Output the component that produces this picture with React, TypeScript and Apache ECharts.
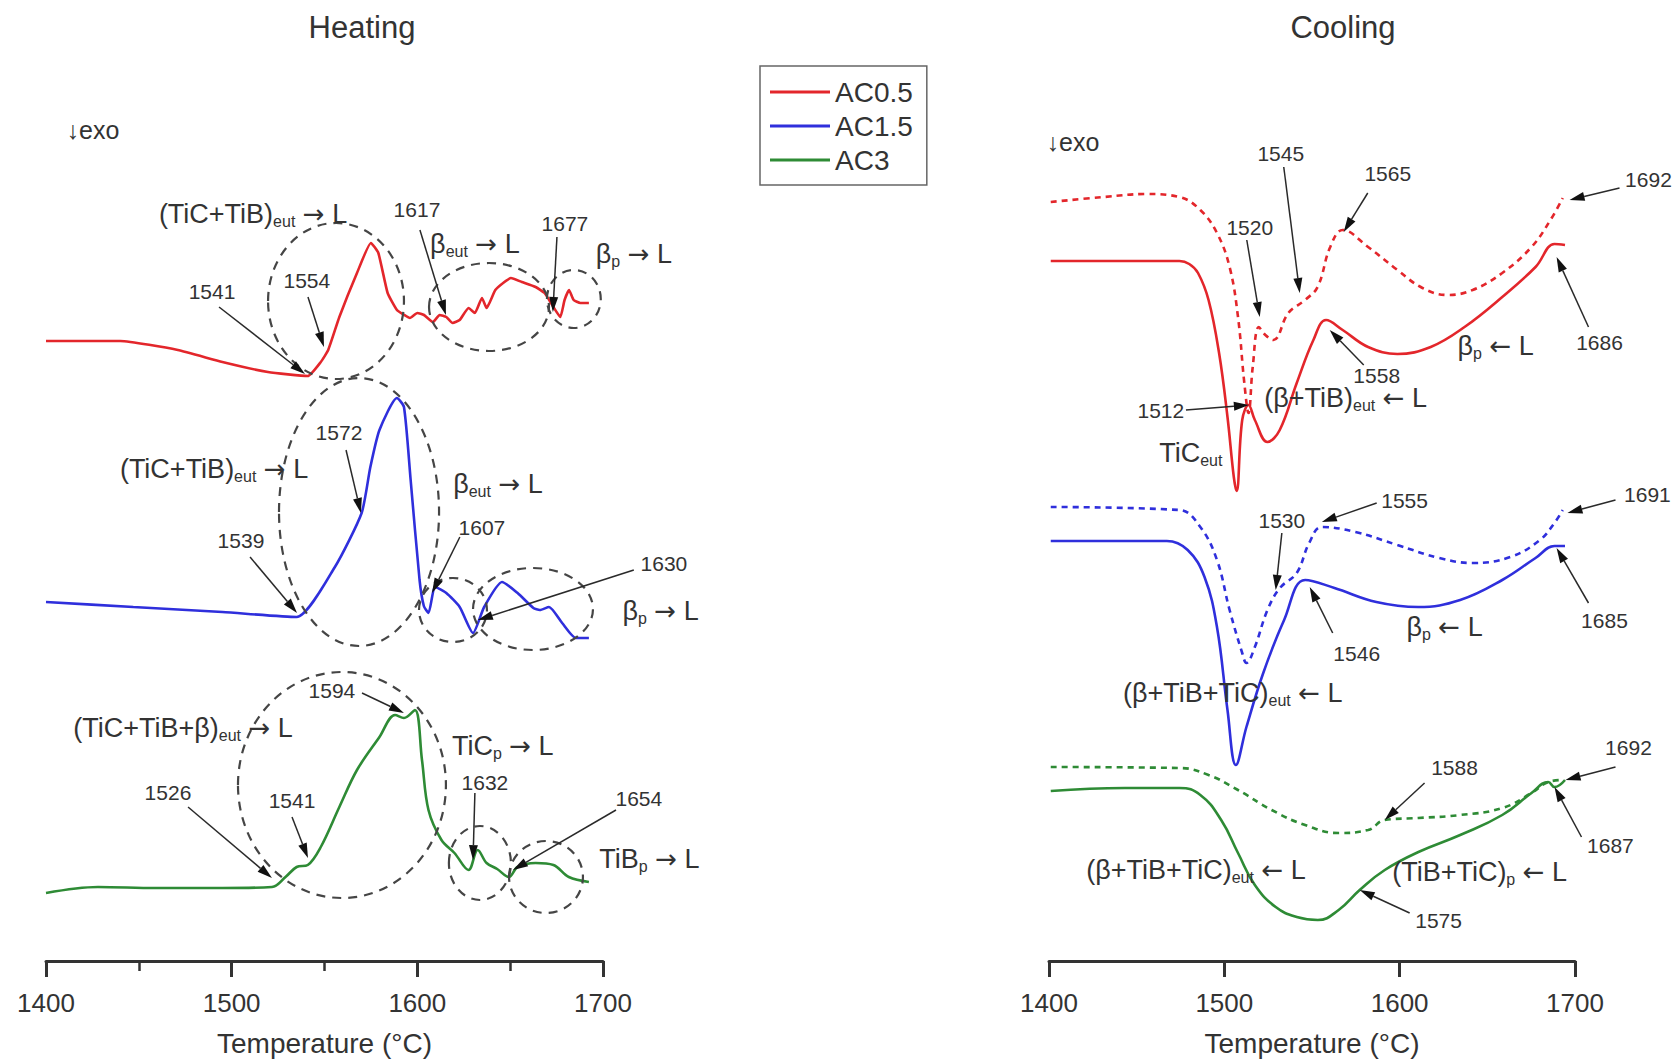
import { useEffect, useRef } from "react";
import * as echarts from "echarts";

type P = [number, number];

// ---------- data: temperature (°C) vs DSC signal (arbitrary units, exo down) ----------
const HEAT_AC05: P[] = [
  [1400, 62.0], [1440, 62.0], [1471, 61.1], [1495, 59.9], [1519.5, 58.9], [1541, 58.5], [1548, 59.9],
  [1552, 61.1], [1558, 64.4], [1567.5, 68.8], [1575, 71.8], [1579, 70.8], [1584, 66.8], [1589, 65.1],
  [1593, 64.6], [1596, 64.3], [1600, 64.8], [1603.6, 64.6], [1608.4, 63.9], [1612, 64.6], [1615.6, 64.4],
  [1619, 63.8], [1622.8, 64.1], [1627.6, 65.3], [1631, 64.8], [1634.8, 66.3], [1637.3, 65.3], [1642, 67.1],
  [1646.9, 67.9], [1650.4, 68.3], [1656.3, 67.9], [1663.7, 67.4], [1668.5, 66.8], [1673.3, 65.4], [1677, 64.4],
  [1679.3, 66.1], [1681.7, 67.1], [1684.2, 66.1], [1687.8, 65.8], [1692.4, 65.8],
];
const HEAT_AC15: P[] = [
  [1400, 35.9], [1447, 35.4], [1495, 34.9], [1535, 34.4], [1555.6, 39.4], [1570, 44.8], [1574.7, 49.4],
  [1579.6, 53.1], [1589, 56.3], [1592.8, 55.4], [1596.4, 48.1], [1601.2, 38.1], [1603.5, 35.5], [1606, 34.8],
  [1609.6, 37.4], [1615.6, 36.8], [1622.8, 35.4], [1630, 32.8], [1636, 35.4], [1645.6, 37.9], [1654, 36.8],
  [1662.5, 35.3], [1666, 35.1], [1670.9, 35.4], [1678, 33.8], [1685.4, 32.3], [1692.4, 32.3],
];
const HEAT_AC3: P[] = [
  [1400, 6.8], [1428, 7.4], [1459, 7.3], [1495, 7.3], [1521.7, 7.4], [1529, 8.4], [1535, 9.4], [1541, 9.6],
  [1548, 11.4], [1558, 15.4], [1567.5, 19.1], [1579.6, 22.4], [1588, 24.6], [1592.8, 24.3], [1598.7, 25.1],
  [1602.5, 20.1], [1606, 15.1], [1613, 12.1], [1620, 10.8], [1627.6, 9.1], [1632.5, 11.1], [1637.3, 9.8],
  [1643, 9.2], [1649.3, 8.4], [1654, 9.4], [1663.7, 9.8], [1673.3, 9.6], [1681.6, 8.4], [1692.4, 7.9],
];
const COOL_AC05: P[] = [
  [1401, 70.0], [1474.4, 70.0], [1480, 69.7], [1485, 68.8], [1491, 66.1], [1497, 60.8], [1501.8, 54.4],
  [1505.4, 48.4], [1507, 47.0], [1510.2, 54.1], [1513.8, 55.6], [1517.4, 54.1], [1524.6, 51.9], [1531.6, 53.1],
  [1541.3, 57.8], [1550.8, 62.1], [1558, 64.1], [1567.5, 63.1], [1582, 61.4], [1598.7, 60.7], [1617.7, 61.4],
  [1637, 63.4], [1658.5, 66.4], [1677.5, 69.4], [1688.3, 71.7], [1694.3, 71.6],
];
const COOL_AC05_DASH: P[] = [
  [1401, 75.9], [1431.3, 76.4], [1455.3, 76.7], [1474.4, 76.4], [1486.3, 75.1], [1495.8, 72.8], [1503, 69.4],
  [1507.8, 64.4], [1511.4, 57.8], [1513.8, 54.8], [1516.2, 59.4], [1519.7, 63.4], [1523.4, 62.6], [1528, 62.1],
  [1536.5, 64.8], [1546, 66.1], [1553.2, 67.4], [1560.4, 71.4], [1567.5, 73.1], [1582, 71.4], [1598.7, 69.1],
  [1613, 67.3], [1627.4, 66.6], [1641.6, 67.1], [1658.5, 68.8], [1675.2, 71.4], [1686, 74.1], [1693, 76.3],
];
const COOL_AC15: P[] = [
  [1401, 42.0], [1467.2, 42.0], [1479.1, 41.1], [1488.7, 38.4], [1495.8, 33.4], [1501.8, 25.1], [1506.6, 19.6],
  [1512.6, 23.4], [1522.2, 28.8], [1534.1, 34.1], [1546.1, 38.1], [1562.8, 37.3], [1586.7, 35.9], [1610.6, 35.4],
  [1634.5, 36.1], [1658.5, 38.1], [1677.5, 40.3], [1688.3, 41.5], [1694.3, 41.5],
];
const COOL_AC15_DASH: P[] = [
  [1401, 45.4], [1474.4, 45.1], [1486.3, 43.4], [1495.8, 40.1], [1503, 35.1], [1510.2, 30.8], [1512.6, 29.8],
  [1517.4, 31.4], [1524.6, 35.1], [1531.7, 37.3], [1541.3, 38.8], [1548.4, 41.8], [1555.6, 43.4], [1574.8, 42.9],
  [1598.7, 41.6], [1622.6, 40.3], [1641.7, 39.8], [1663.2, 40.4], [1680, 42.1], [1688.3, 43.8], [1693, 45.1],
];
const COOL_AC3: P[] = [
  [1401, 17.0], [1443.3, 17.3], [1474.4, 17.3], [1486.3, 16.6], [1498.2, 14.1], [1507.8, 10.8], [1517.4, 7.6],
  [1529.3, 5.4], [1541.3, 4.4], [1553.3, 4.1], [1565.2, 5.1], [1577.2, 7.1], [1591.5, 9.1], [1610.7, 10.9],
  [1634.5, 12.6], [1658.5, 14.6], [1675.2, 16.8], [1684.7, 17.9], [1688.3, 17.4], [1694.3, 18.1],
];
const COOL_AC3_DASH: P[] = [
  [1401, 19.4], [1474.4, 19.3], [1491, 18.6], [1507.8, 17.1], [1527, 15.1], [1546.1, 13.6], [1565.2, 12.8],
  [1582, 13.1], [1591.5, 14.1], [1610.7, 14.3], [1634.5, 14.6], [1658.5, 15.3], [1675.2, 16.8], [1684.7, 17.9],
  [1693, 18.1],
];

const X_TICKS = [1400, 1500, 1600, 1700];
const LEGEND_NAMES = ["AC0.5", "AC1.5", "AC3"];

// temperature tags: [panel, T, signal, text]
const NUMBER_TAGS: [number, number, number, string][] = [
  [0, 1489.4, 67.0, "1541"], [0, 1540.5, 68.1, "1554"], [0, 1599.8, 75.2, "1617"], [0, 1679.5, 73.8, "1677"],
  [0, 1557.8, 52.9, "1572"], [0, 1505, 42.1, "1539"], [0, 1634.8, 43.4, "1607"], [0, 1732.8, 39.8, "1630"],
  [0, 1554, 27.1, "1594"], [0, 1465.7, 16.9, "1526"], [0, 1532.5, 16.1, "1541"], [0, 1636.4, 17.9, "1632"],
  [0, 1719.3, 16.3, "1654"],
  [1, 1532.2, 80.8, "1545"], [1, 1593.2, 78.8, "1565"], [1, 1741.9, 78.2, "1692"], [1, 1514.5, 73.4, "1520"],
  [1, 1714, 61.9, "1686"], [1, 1586.9, 58.6, "1558"], [1, 1463.8, 55.1, "1512"],
  [1, 1602.8, 46.1, "1555"], [1, 1741.3, 46.7, "1691"], [1, 1532.8, 44.1, "1530"], [1, 1575.5, 30.8, "1546"],
  [1, 1716.8, 34.1, "1685"],
  [1, 1631.3, 19.4, "1588"], [1, 1730.5, 21.4, "1692"], [1, 1720.2, 11.6, "1687"], [1, 1622.2, 4.1, "1575"],
];

// phase tags: [panel, T, signal, main, subscript, arrow ("" for none)]
const PHASE_TAGS: [number, number, number, string, string, string][] = [
  [0, 1511.5, 74.7, "(TiC+TiB)", "eut", "→"],
  [0, 1631, 71.7, "β", "eut", "→"],
  [0, 1716.6, 70.7, "β", "p", "→"],
  [0, 1490.5, 49.2, "(TiC+TiB)", "eut", "→"],
  [0, 1643.4, 47.7, "β", "eut", "→"],
  [0, 1731, 35.0, "β", "p", "→"],
  [0, 1473.8, 23.3, "(TiC+TiB+β)", "eut", "→"],
  [0, 1646, 21.5, "TiC", "p", "→"],
  [0, 1725, 10.2, "TiB", "p", "→"],
  [1, 1654.7, 61.5, "β", "p", "←"],
  [1, 1569.2, 56.3, "(β+TiB)", "eut", "←"],
  [1, 1480.9, 50.8, "TiC", "eut", ""],
  [1, 1625.6, 33.4, "β", "p", "←"],
  [1, 1504.8, 26.8, "(β+TiB+TiC)", "eut", "←"],
  [1, 1483.8, 9.1, "(β+TiB+TiC)", "eut", "←"],
  [1, 1645.6, 8.9, "(TiB+TiC)", "p", "←"],
];

// arrows: [panel, T from, signal from, T to, signal to]
const ARROWS: [number, number, number, number, number][] = [
  [0, 1493.2, 65.4, 1539.5, 58.7], [0, 1541.1, 66.4, 1549.7, 61.4], [0, 1601.4, 73.1, 1615.4, 64.6],
  [0, 1675.2, 72.4, 1673, 64.9],
  [0, 1509.9, 40.4, 1535.2, 34.8], [0, 1561.6, 51.1, 1569.6, 44.8], [0, 1622.9, 42.4, 1607.9, 36.8],
  [0, 1716.6, 39.1, 1632.6, 34.1],
  [0, 1476.5, 15.4, 1521.7, 8.3], [0, 1532.5, 14.4, 1541.1, 10.3], [0, 1570.2, 26.8, 1592.8, 24.8],
  [0, 1631, 16.8, 1630, 10.1], [0, 1707, 15.1, 1651.5, 9.1],
  [1, 1533.9, 79.4, 1543, 66.8], [1, 1581.8, 76.8, 1568.1, 72.9], [1, 1725.4, 77.3, 1696.9, 76.1],
  [1, 1512.8, 72.1, 1520.2, 64.4], [1, 1707.7, 63.4, 1689.5, 70.4], [1, 1579.5, 59.6, 1560.1, 63.1],
  [1, 1478.1, 55.1, 1514, 55.6],
  [1, 1586.9, 45.8, 1555.6, 43.9], [1, 1723.1, 46.1, 1695.7, 44.8], [1, 1532.8, 42.8, 1529.3, 37.1],
  [1, 1561.8, 32.8, 1548.7, 37.4], [1, 1707.7, 35.8, 1689.5, 41.3],
  [1, 1614.2, 17.8, 1591.5, 14.1], [1, 1723.1, 19.4, 1694.6, 18.1], [1, 1703.7, 12.4, 1688.3, 17.4],
  [1, 1605.7, 4.8, 1577.2, 7.1],
];

// dashed rings: [panel, T centre, signal centre, T radius, signal radius]
const RINGS: [number, number, number, number, number][] = [
  [0, 1556.2, 66.0, 36.6, 7.8], [0, 1638.6, 65.4, 32.3, 4.4], [0, 1684.3, 66.2, 14.5, 2.9],
  [0, 1568.6, 44.9, 43.1, 13.4], [0, 1619.2, 35.1, 18.3, 3.2], [0, 1662.3, 35.2, 32.3, 4.1],
  [0, 1559.4, 17.6, 56, 11.3], [0, 1633.7, 9.8, 16.7, 3.7], [0, 1669.3, 8.4, 19.9, 3.6],
];

// ---------- style ----------
const RED = "#e3262b";
const BLUE = "#2f2fdc";
const GREEN = "#2e8b35";
const INK = "#333333";
const FONT = "'Liberation Sans', Arial, sans-serif";

function lineSeries(name: string, data: P[], color: string, panel: number, dashed: boolean, smooth: number) {
  return {
    type: "line",
    name,
    data,
    xAxisIndex: panel,
    yAxisIndex: panel,
    showSymbol: false,
    symbol: "none",
    smooth,
    silent: true,
    clip: false,
    lineStyle: { color, width: 2.6, type: dashed ? [6, 5] : "solid" },
    itemStyle: { color },
  };
}

function xAxis(panel: number, minor: boolean) {
  return {
    gridIndex: panel,
    type: "value",
    min: X_TICKS[0],
    max: X_TICKS[X_TICKS.length - 1],
    interval: 100,
    axisLine: { show: true, onZero: false, lineStyle: { color: INK, width: 3 } },
    axisTick: { show: true, length: 16, lineStyle: { color: INK, width: 3 } },
    minorTick: { show: minor, splitNumber: 2, length: 10, lineStyle: { color: INK, width: 2.5 } },
    splitLine: { show: false },
    minorSplitLine: { show: false },
    axisLabel: {
      fontSize: 26,
      color: INK,
      margin: 29,
      fontFamily: FONT,
      formatter: (v: number) => String(v),
    },
    name: "Temperature (°C)",
    nameLocation: "middle",
    nameGap: 68,
    nameTextStyle: { fontSize: 28, color: INK, fontFamily: FONT },
  };
}

export default function App() {
  const ref = useRef<HTMLDivElement>(null);
  useEffect(() => {
    if (!ref.current) return;
    const chart = echarts.init(ref.current, null, { renderer: "svg" });
    chart.setOption({
      animation: false,
      backgroundColor: "#ffffff",
      grid: [
        { left: 46, top: 0, width: 557, height: 961 },
        { left: 1049, top: 0, width: 526, height: 961 },
      ],
      xAxis: [xAxis(0, true), xAxis(1, false)],
      yAxis: [
        { gridIndex: 0, type: "value", min: 0, max: 96.1, show: false },
        { gridIndex: 1, type: "value", min: 0, max: 96.1, show: false },
      ],
      legend: {
        data: LEGEND_NAMES,
        orient: "vertical",
        left: 760,
        top: 66,
        icon: "rect",
        itemWidth: 60,
        itemHeight: 3,
        itemGap: 6,
        padding: [12, 14, 11, 10],
        borderColor: "#666",
        borderWidth: 1.5,
        selectedMode: false,
        textStyle: { fontSize: 28, color: INK, fontFamily: FONT, padding: [0, 0, 0, 0] },
      },
      series: [
        lineSeries("AC0.5", HEAT_AC05, RED, 0, false, 0.15),
        lineSeries("AC1.5", HEAT_AC15, BLUE, 0, false, 0.2),
        lineSeries("AC3", HEAT_AC3, GREEN, 0, false, 0.35),
        lineSeries("AC0.5", COOL_AC05, RED, 1, false, 0.4),
        lineSeries("AC0.5 dashed", COOL_AC05_DASH, RED, 1, true, 0.4),
        lineSeries("AC1.5", COOL_AC15, BLUE, 1, false, 0.4),
        lineSeries("AC1.5 dashed", COOL_AC15_DASH, BLUE, 1, true, 0.4),
        lineSeries("AC3", COOL_AC3, GREEN, 1, false, 0.45),
        lineSeries("AC3 dashed", COOL_AC3_DASH, GREEN, 1, true, 0.45),
      ],
    });

    const px = (g: number, t: number, v: number) =>
      chart.convertToPixel({ gridIndex: g } as any, [t, v]) as unknown as number[];

    const txt = (x: number, y: number, text: string, size: number) => ({
      type: "text",
      x,
      y,
      silent: true,
      z: 7,
      style: { text, fontSize: size, fontFamily: FONT, fill: INK, align: "center", verticalAlign: "middle" },
    });

    const gfx: any[] = [
      txt(362, 27, "Heating", 31),
      txt(1343, 27, "Cooling", 31),
      txt(93, 130, "↓exo", 25),
      txt(1073, 142, "↓exo", 25),
    ];

    RINGS.forEach(([g, t, v, rt, rv]) => {
      const c = px(g, t, v);
      const a = px(g, t + rt, v);
      const b = px(g, t, v + rv);
      gfx.push({
        type: "ellipse",
        silent: true,
        z: 5,
        shape: { cx: c[0], cy: c[1], rx: Math.abs(a[0] - c[0]), ry: Math.abs(c[1] - b[1]) },
        style: { fill: "none", stroke: "#454545", lineWidth: 2.2, lineDash: [9, 7] },
      });
    });

    ARROWS.forEach(([g, t1, v1, t2, v2]) => {
      const p1 = px(g, t1, v1);
      const p2 = px(g, t2, v2);
      const dx = p2[0] - p1[0];
      const dy = p2[1] - p1[1];
      const len = Math.hypot(dx, dy) || 1;
      const ux = dx / len;
      const uy = dy / len;
      const hl = 15;
      const hw = 4.5;
      const bx = p2[0] - ux * hl;
      const by = p2[1] - uy * hl;
      gfx.push({
        type: "line",
        silent: true,
        z: 6,
        shape: { x1: p1[0], y1: p1[1], x2: bx, y2: by },
        style: { stroke: "#2a2a2a", lineWidth: 1.5 },
      });
      gfx.push({
        type: "polygon",
        silent: true,
        z: 6,
        shape: { points: [[p2[0], p2[1]], [bx - uy * hw, by + ux * hw], [bx + uy * hw, by - ux * hw]] },
        style: { fill: "#111111" },
      });
    });

    NUMBER_TAGS.forEach(([g, t, v, text]) => {
      const p = px(g, t, v);
      gfx.push(txt(p[0], p[1], text, 21));
    });

    PHASE_TAGS.forEach(([g, t, v, main, sub, arrow]) => {
      const p = px(g, t, v);
      const tail = arrow ? ` {a|${arrow}} L` : "";
      gfx.push({
        type: "text",
        silent: true,
        z: 7,
        x: p[0],
        y: p[1],
        style: {
          text: `${main}{s|${sub}}${tail}`,
          fontSize: 27,
          fontFamily: FONT,
          fill: INK,
          lineHeight: 30,
          align: "center",
          verticalAlign: "middle",
          rich: {
            s: { fontSize: 16, fontFamily: FONT, fill: INK, lineHeight: 13, verticalAlign: "bottom" },
            a: { fontSize: 26, fontFamily: "'DejaVu Sans', sans-serif", fill: INK, lineHeight: 30 },
          },
        },
      });
    });

    chart.setOption({ graphic: gfx });
    return () => chart.dispose();
  }, []);
  return <div ref={ref} style={{ position: "fixed", left: 0, top: 0, width: 1678, height: 1064 }} />;
}
